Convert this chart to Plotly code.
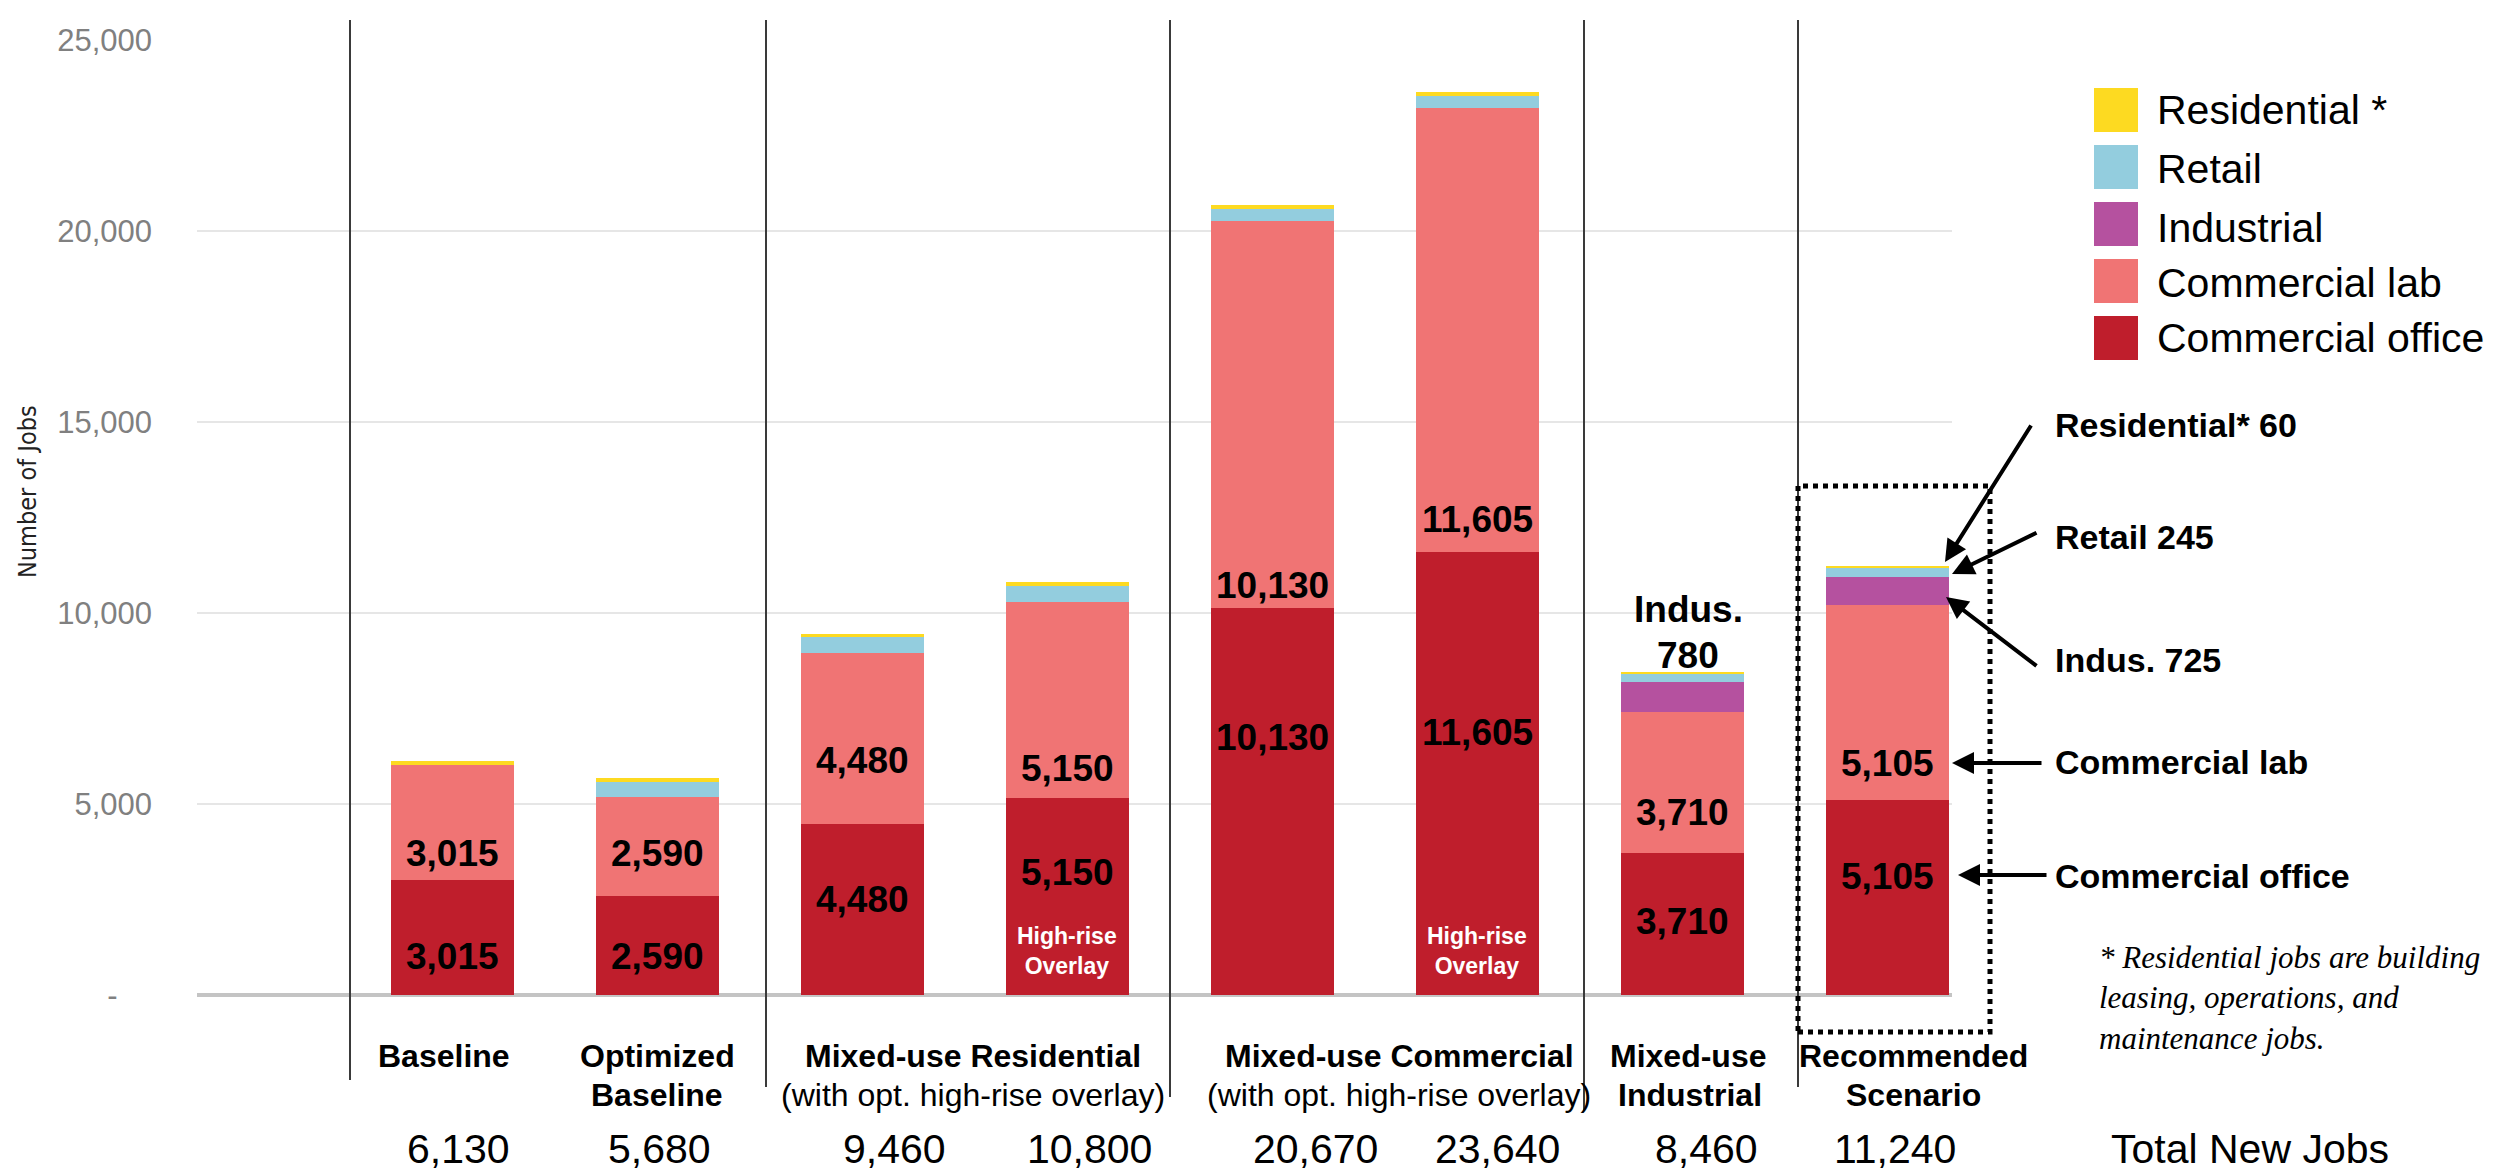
import plotly.graph_objects as go

# ---------------- data ----------------
categories = ["Baseline", "Optimized Baseline", "Mixed-use Residential",
              "Mixed-use Residential (high-rise overlay)", "Mixed-use Commercial",
              "Mixed-use Commercial (high-rise overlay)", "Mixed-use Industrial",
              "Recommended Scenario"]
commercial_office = [3015, 2590, 4480, 5150, 10130, 11605, 3710, 5105]
commercial_lab = [3015, 2590, 4480, 5150, 10130, 11605, 3710, 5105]
industrial = [0, 0, 0, 0, 0, 0, 780, 725]
retail = [0, 400, 400, 400, 310, 330, 200, 245]
residential = [100, 100, 100, 100, 100, 100, 60, 60]
total_new_jobs = [6130, 5680, 9460, 10800, 20670, 23640, 8460, 11240]
y_ticks = [0, 5000, 10000, 15000, 20000, 25000]

series_names = ["Commercial office", "Commercial lab", "Industrial", "Retail", "Residential *"]
series_values = [commercial_office, commercial_lab, industrial, retail, residential]

# ---------------- styles / layout ----------------
colors = ["#BF1E2C", "#F07474", "#B5519F", "#93CDDE", "#FDDA21"]
SANS = "Liberation Sans, Arial, sans-serif"
NARROW = "Liberation Sans Narrow, Arial Narrow, DejaVu Sans Condensed, Liberation Sans, sans-serif"
SERIF = "Liberation Serif, Times New Roman, serif"

W, H = 2519, 1171
PL, PR, PT, PB = 197, 1952, 40, 995


def px(x):
    return (x - PL) / (PR - PL)


def py(y):
    return (PB - y) / (PB - PT)


def ann(x, y, text, xref="paper", yref="paper", size=32, color="black", family=SANS,
        xanchor="center", yanchor="middle", **kw):
    d = dict(x=x, y=y, xref=xref, yref=yref, text=text, showarrow=False,
             xanchor=xanchor, yanchor=yanchor,
             font=dict(family=family, size=size, color=color))
    d.update(kw)
    return d


xs = list(range(len(categories)))

fig = go.Figure()
for name, vals, col in zip(series_names, series_values, colors):
    fig.add_trace(go.Bar(x=xs, y=vals, name=name, marker_color=col,
                         marker_line_width=0, width=0.6, hoverinfo="y+name"))

annotations = []

# value labels inside bars (positions are layout choices)
office_label_y = [995, 995, 2490, 3220, 6750, 6860, 1930, 3115]
lab_label_y = [3700, 3700, 6150, 5940, 10730, 12435, 4790, 6070]
for i in xs:
    annotations.append(ann(i, office_label_y[i], f"<b>{commercial_office[i]:,}</b>",
                           xref="x", yref="y", size=37))
    annotations.append(ann(i, lab_label_y[i], f"<b>{commercial_lab[i]:,}</b>",
                           xref="x", yref="y", size=37))

for i in (3, 5):
    annotations.append(ann(i, 1150, "<b>High-rise<br>Overlay</b>", xref="x", yref="y",
                           size=23, color="white"))

annotations.append(ann(6.03, 10080, "<b>Indus.</b>", xref="x", yref="y", size=37))
annotations.append(ann(6.03, 8900, f"<b>{industrial[6]:,}</b>", xref="x", yref="y", size=37))

# category labels below axis
cat_line1 = [(-0.04, "<b>Baseline</b>"), (1.0, "<b>Optimized</b>"),
             (2.54, "<b>Mixed-use Residential</b>"), (4.62, "<b>Mixed-use Commercial</b>"),
             (6.03, "<b>Mixed-use</b>"), (7.13, "<b>Recommended</b>")]
cat_line2 = [(1.0, "<b>Baseline</b>"), (2.54, "(with opt. high-rise overlay)"),
             (4.62, "(with opt. high-rise overlay)"), (6.04, "<b>Industrial</b>"),
             (7.13, "<b>Scenario</b>")]
for x, t in cat_line1:
    annotations.append(ann(x, py(1056), t, xref="x", size=32))
for x, t in cat_line2:
    annotations.append(ann(x, py(1095), t, xref="x", size=32))

# totals row
total_x = [0.03, 1.01, 2.16, 3.11, 4.21, 5.10, 6.12, 7.04]
for i in xs:
    annotations.append(ann(total_x[i], py(1149), f"{total_new_jobs[i]:,}", xref="x", size=41))
annotations.append(ann(px(2109), py(1149), "Total New Jobs", size=41, xanchor="left"))

# y axis title
annotations.append(ann(px(27), py(492), "Number of Jobs", size=25, color="#222222",
                       family=NARROW, textangle=-90))

# callouts for recommended scenario
callouts = [
    (f"<b>Residential* {residential[7]}</b>", 425, (1945, 562), (2032, 424)),
    (f"<b>Retail {retail[7]}</b>", 537, (1952, 574), (2038, 532)),
    (f"<b>Indus. {industrial[7]}</b>", 660, (1946, 597), (2038, 667)),
    ("<b>Commercial lab</b>", 762, (1952, 763), (2043, 763)),
    ("<b>Commercial office</b>", 876, (1958, 875), (2048, 875)),
]
for text, ty, tip, tail in callouts:
    annotations.append(ann(px(2053), py(ty), text, size=34, xanchor="left"))
    annotations.append(dict(x=px(tip[0]), y=py(tip[1]), xref="paper", yref="paper", text="",
                            showarrow=True, arrowhead=2, arrowsize=1.1, arrowwidth=4,
                            arrowcolor="black", ax=tail[0] - tip[0], ay=tail[1] - tip[1],
                            standoff=0, startstandoff=0))

# footnote
annotations.append(ann(px(2097), py(998),
                       "<i>* Residential jobs are building<br>leasing, operations, and<br>maintenance jobs.</i>",
                       family=SERIF, size=31, xanchor="left", align="left"))

shapes = []
# manual legend
legend_rows = [(4, 110, 110), (3, 167, 169), (2, 224, 228), (1, 281, 283), (0, 338, 338)]
for idx, sy, ty in legend_rows:
    shapes.append(dict(type="rect", xref="paper", yref="paper",
                       x0=px(2094), x1=px(2138), y0=py(sy + 22), y1=py(sy - 22),
                       fillcolor=colors[idx], line_width=0))
    annotations.append(ann(px(2155), py(ty), series_names[idx], size=41, xanchor="left"))

# group separators
sep_px = [350, 766, 1170, 1584, 1798]
sep_bottom = [1080, 1087, 1097, 1110, 1087]
for sx, sb in zip(sep_px, sep_bottom):
    shapes.append(dict(type="line", xref="paper", yref="paper", x0=px(sx), x1=px(sx),
                       y0=py(20), y1=py(sb), line=dict(color="#3a3a3a", width=2)))

# dotted highlight box
shapes.append(dict(type="rect", xref="paper", yref="paper", x0=px(1798), x1=px(1990),
                   y0=py(1032), y1=py(486), line=dict(color="black", width=5, dash="dot"),
                   fillcolor="rgba(0,0,0,0)"))

nbsp = "\u00a0"
fig.update_layout(
    width=W, height=H,
    margin=dict(l=PL, r=W - PR, t=PT, b=H - PB, pad=0),
    plot_bgcolor="white", paper_bgcolor="white",
    barmode="stack", showlegend=False,
    annotations=annotations, shapes=shapes,
    font=dict(family=SANS),
    xaxis=dict(range=[-1.244, 7.317], showticklabels=False, showgrid=False,
               zeroline=False, showline=False, ticks=""),
    yaxis=dict(range=[0, 25000], tickvals=y_ticks,
               ticktext=[("-" + nbsp * 4) if v == 0 else f"{v:,}" for v in y_ticks],
               tickfont=dict(family=SANS, size=31, color="#808080"),
               gridcolor="#e6e6e6", gridwidth=2, zeroline=True,
               zerolinecolor="#c4c4c4", zerolinewidth=4, showline=False,
               ticks="", ticklabelstandoff=44),
)

fig.write_html("out.html")
